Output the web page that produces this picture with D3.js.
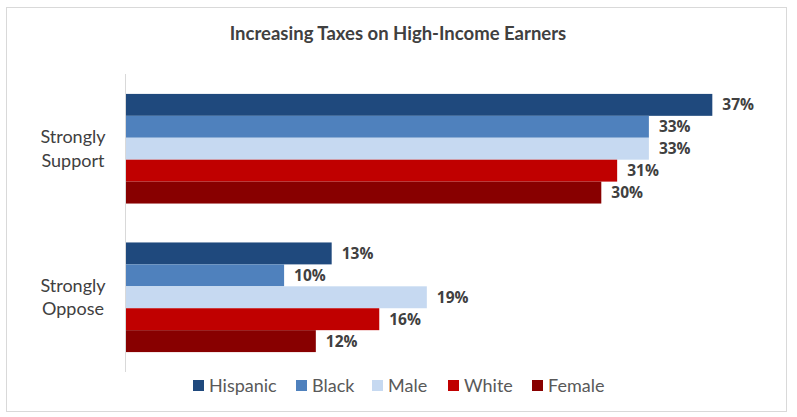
<!DOCTYPE html>
<html>
<head>
<meta charset="utf-8">
<script src="https://cdn.jsdelivr.net/npm/d3@7"></script>
<style>
  body { margin: 0; background: #fff; }
  svg { display: block; }
</style>
</head>
<body>
<div id="chart"></div>
<script>
// data
const categories = ['Strongly Support', 'Strongly Oppose'];
const seriesNames = ['Hispanic', 'Black', 'Male', 'White', 'Female'];
const hispanic = [37, 13];
const black = [33, 10];
const male = [33, 19];
const white = [31, 16];
const female = [30, 12];
const seriesColors = ['#1F497D', '#4F81BD', '#C6D9F1', '#C00000', '#880000'];

const seriesValues = [hispanic, black, male, white, female];

const width = 797, height = 417;
const textColor = '#404040';

const svg = d3.select('#chart').append('svg')
  .attr('width', width)
  .attr('height', height);

// chart border
svg.append('rect')
  .attr('x', 6.5).attr('y', 7.5)
  .attr('width', 780).attr('height', 404)
  .attr('fill', '#fff')
  .attr('stroke', '#d9d9d9')
  .attr('stroke-width', 1);

// title
svg.append('text')
  .attr('x', 398).attr('y', 40)
  .attr('text-anchor', 'middle')
  .style('font', 'bold 18.5px Lato, "Open Sans", sans-serif')
  .attr('fill', textColor)
  .text('Increasing Taxes on High-Income Earners');

const x = d3.scaleLinear().domain([0, 40]).range([125.5, 125.5 + 40 * 15.86]);

const y0 = d3.scaleBand()
  .domain(categories)
  .range([74, 372])
  .paddingInner(0.262)
  .paddingOuter(0.134);

const y1 = d3.scaleBand()
  .domain(seriesNames)
  .range([0, y0.bandwidth()]);

const groups = svg.selectAll('g.group')
  .data(categories)
  .enter().append('g')
  .attr('class', 'group')
  .attr('transform', d => 'translate(0,' + y0(d) + ')');

groups.selectAll('rect')
  .data((d, ci) => seriesNames.map((s, si) => ({ series: s, value: seriesValues[si][ci], color: seriesColors[si] })))
  .enter().append('rect')
  .attr('x', x(0))
  .attr('y', d => y1(d.series))
  .attr('width', d => x(d.value) - x(0))
  .attr('height', y1.bandwidth())
  .attr('fill', d => d.color);

groups.selectAll('text.value')
  .data((d, ci) => seriesNames.map((s, si) => ({ series: s, value: seriesValues[si][ci] })))
  .enter().append('text')
  .attr('class', 'value')
  .attr('x', d => x(d.value) + 10)
  .attr('y', d => y1(d.series) + y1.bandwidth() / 2)
  .attr('dy', '0.36em')
  .style('font', 'bold 15.5px "Open Sans", sans-serif')
  .attr('fill', textColor)
  .text(d => d.value + '%');

// axis line
svg.append('line')
  .attr('x1', x(0)).attr('x2', x(0))
  .attr('y1', 74).attr('y2', 372)
  .attr('stroke', '#d9d9d9')
  .attr('stroke-width', 1);

// category labels, two lines each
groups.append('text')
  .attr('text-anchor', 'middle')
  .attr('x', 73)
  .attr('y', y0.bandwidth() / 2)
  .style('font', '18px Lato, sans-serif')
  .attr('fill', textColor)
  .selectAll('tspan')
  .data(d => d.split(' '))
  .enter().append('tspan')
  .attr('x', 73)
  .attr('dy', (d, i) => i === 0 ? '-0.3em' : '1.3em')
  .text(d => d);

// legend
const legendX = [193, 296, 372, 448, 532];
const legend = svg.selectAll('g.legend')
  .data(seriesNames)
  .enter().append('g')
  .attr('class', 'legend')
  .attr('transform', (d, i) => 'translate(' + legendX[i] + ',380)');

legend.append('rect')
  .attr('width', 11).attr('height', 11)
  .attr('fill', (d, i) => seriesColors[i]);

legend.append('text')
  .attr('x', 16)
  .attr('y', 5.5)
  .attr('dy', '0.36em')
  .style('font', '18px Lato, sans-serif')
  .attr('fill', '#595959')
  .text(d => d);
</script>
</body>
</html>
